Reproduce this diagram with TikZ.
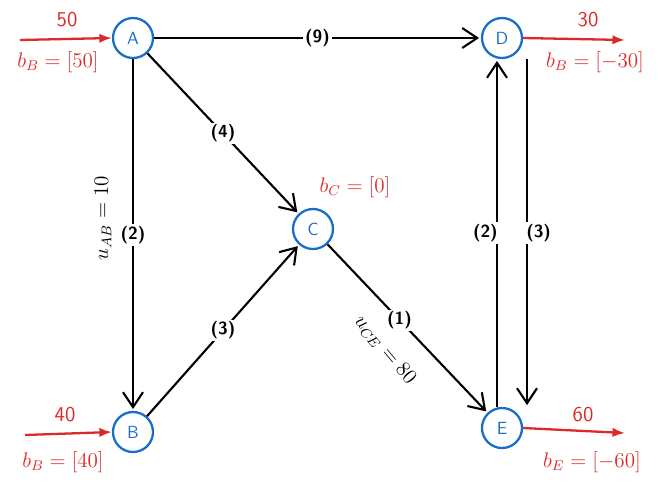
\documentclass[tikz,border=0pt]{standalone}
\usepackage{xcolor}
\usetikzlibrary{arrows.meta}
\definecolor{nodeblue}{RGB}{25,110,200}
\definecolor{supred}{RGB}{220,40,40}
\begin{document}
\begin{tikzpicture}[x=0.02cm,y=-0.02cm,
    vtx/.style={circle, draw=nodeblue, line width=1.3pt, minimum size=0.8cm, inner sep=0pt, text=nodeblue, font=\sffamily},
    arrow/.style={-{Straight Barb[length=3mm,width=4mm]}, line width=1.2pt, shorten >=1pt},
    lbl/.style={fill=white, inner sep=1pt, font=\sffamily\bfseries},
    sup/.style={-{Latex[length=2.5mm]}, line width=1.3pt, draw=supred},
    redtxt/.style={text=supred, font=\large}
]
\useasboundingbox (0,0) rectangle (658,484);

% Nodes
\node[vtx] (A) at (133,38) {A};
\node[vtx] (D) at (502,38) {D};
\node[vtx] (C) at (313,229) {C};
\node[vtx] (B) at (133,432) {B};
\node[vtx] (E) at (502,428) {E};

% Arcs
\draw[arrow] (A) -- node[lbl] {(9)} (D);
\draw[arrow] (A) -- node[lbl] {(2)} (B);
\draw[arrow] (A) -- node[lbl] {(4)} (C);
\draw[arrow] (B) -- node[lbl] {(3)} (C);
\draw[arrow] (C) -- node[lbl, pos=0.45] {(1)} (E);
\draw[arrow] ([xshift=-0.1cm]E.north) -- node[lbl, left=-2pt] {(2)} ([xshift=-0.1cm]D.south);
\draw[arrow] ([xshift=0.5cm]D.south) -- node[lbl, right=-2pt] {(3)} ([xshift=0.5cm]E.north);

% Capacities
\node[rotate=90, font=\large] (uab) at (103,218) {$u_{AB}=10$};
\node[rotate=-50, font=\large] (uce) at (385,350) {$u_{CE}=80$};

% Supplies
\coordinate (sa) at (20,40); \coordinate (sd) at (625,40);
\coordinate (sb) at (25,435); \coordinate (se) at (625,433);
\draw[sup] (sa) -- (A.west);
\draw[sup] (D.east) -- (sd);
\draw[sup] (sb) -- (B.west);
\draw[sup] (E.east) -- (se);
\node[redtxt, font=\sffamily\large] (na) at (67,20) {50};
\node[redtxt] (ba) at (58,62) {$b_B=[50]$};
\node[redtxt, font=\sffamily\large] (nd) at (588,20) {30};
\node[redtxt] (bd) at (595,62) {$b_B=[-30]$};
\node[redtxt] (bc) at (355,187) {$b_C=[0]$};
\node[redtxt, font=\sffamily\large] (nb) at (65,415) {40};
\node[redtxt] (bb) at (63,462) {$b_B=[40]$};
\node[redtxt, font=\sffamily\large] (ne) at (583,415) {60};
\node[redtxt] (be) at (592,462) {$b_E=[-60]$};
\end{tikzpicture}
\end{document}
